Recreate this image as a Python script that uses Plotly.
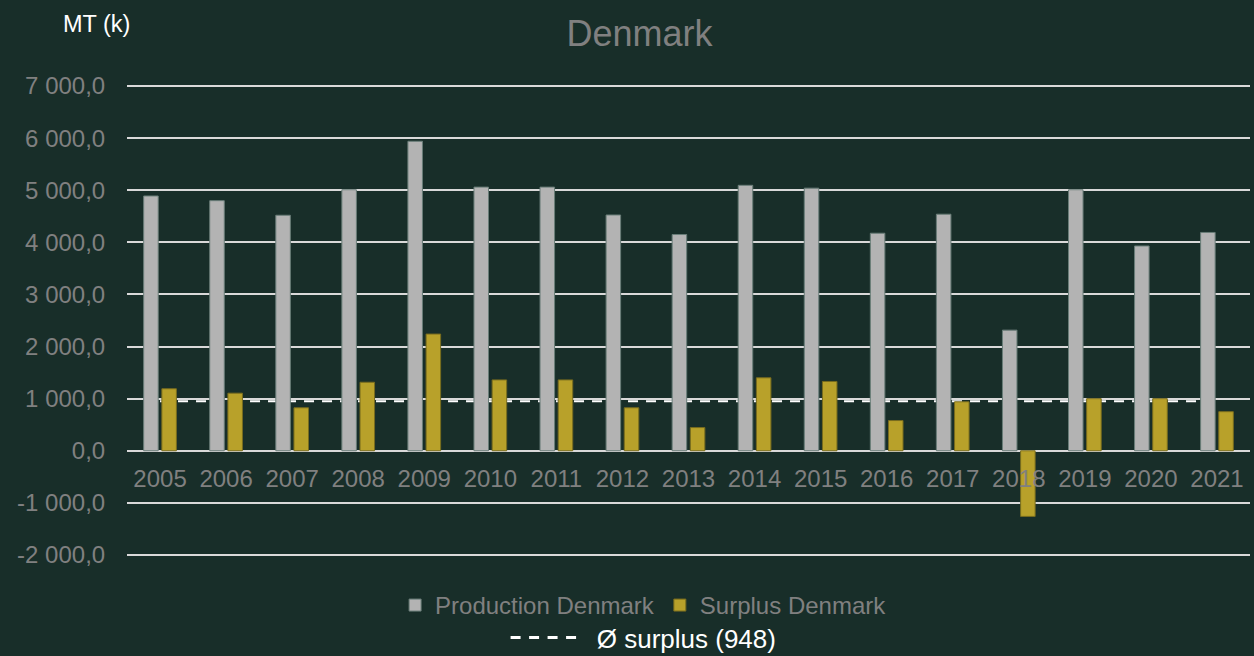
import plotly.graph_objects as go

years = [str(y) for y in range(2005, 2022)]
production = [4890, 4800, 4520, 5010, 5940, 5060, 5060, 4525, 4150, 5095, 5040, 4175, 4540, 2315, 5010, 3930, 4190]
surplus = [1190, 1105, 825, 1315, 2240, 1360, 1360, 825, 445, 1400, 1330, 580, 940, -1260, 1000, 1000, 750]
avg_surplus = 948
y_ticks = [-2000, -1000, 0, 1000, 2000, 3000, 4000, 5000, 6000, 7000]
y_ticktext = ["-2 000,0", "-1 000,0", "0,0", "1 000,0", "2 000,0", "3 000,0",
              "4 000,0", "5 000,0", "6 000,0", "7 000,0"]

BG = "rgb(24,46,41)"
GRID = "rgb(217,217,217)"
TXT = "rgb(128,128,128)"
FONT = "Liberation Sans, Arial, sans-serif"

Y0, Y1 = -2020, 7020

fig = go.Figure()
fig.add_trace(go.Bar(
    x=years, y=production, name="Production Denmark",
    marker=dict(color="rgb(179,179,179)", line=dict(color="rgb(105,125,120)", width=1)),
    legend="legend",
))
fig.add_trace(go.Bar(
    x=years, y=surplus, name="Surplus Denmark",
    marker=dict(color="rgb(184,161,42)", line=dict(color="rgb(120,108,30)", width=1)),
    legend="legend",
))
# legend entry for the average line (the line itself is drawn as a shape behind the bars)
fig.add_trace(go.Scatter(
    x=[None], y=[None], mode="lines",
    name="<span style='color:white'>\u2002\u200aØ surplus (" + str(avg_surplus) + ")</span>",
    line=dict(color="white", width=3, dash="10px,8.5px"),
    legend="legend2",
))
fig.add_shape(
    type="line", xref="x", yref="y", x0=0, x1=len(years) - 1,
    y0=avg_surplus, y1=avg_surplus, layer="below",
    line=dict(color="white", width=2, dash="10px,8px"),
)

fig.update_layout(
    width=1254, height=656,
    paper_bgcolor=BG, plot_bgcolor=BG,
    margin=dict(l=127, r=4, t=85, b=100, autoexpand=False),
    separators=", ",
    font=dict(family=FONT, size=24, color=TXT),
    barmode="group", bargap=0.45, bargroupgap=0.2,
    title=dict(text="Denmark", x=0.51, xref="container", y=1 - 33 / 656, yref="container",
               xanchor="center", yanchor="middle",
               font=dict(family=FONT, size=36, color=TXT)),
    xaxis=dict(
        type="category", range=[-0.5, len(years) - 0.5],
        anchor="free", position=(0 - Y0) / (Y1 - Y0),
        showgrid=False, showline=False, zeroline=False,
        ticks="outside", ticklen=6, tickcolor="rgba(0,0,0,0)",
        tickfont=dict(size=24, color=TXT),
    ),
    yaxis=dict(
        range=[Y0, Y1], tickvals=y_ticks, ticktext=y_ticktext,
        showgrid=True, gridcolor=GRID, gridwidth=1.5,
        zeroline=True, zerolinecolor=GRID, zerolinewidth=1.5,
        showline=False,
        ticks="outside", ticklen=16, tickcolor="rgba(0,0,0,0)",
        tickfont=dict(size=24, color=TXT),
    ),
    legend=dict(orientation="h", x=0.46, xanchor="center", y=-0.105, yanchor="middle",
                font=dict(size=24, color=TXT), bgcolor="rgba(0,0,0,0)", itemwidth=30),
    legend2=dict(orientation="h", x=0.46, xanchor="center", y=-0.173, yanchor="middle",
                 font=dict(size=26, color="white"), bgcolor="rgba(0,0,0,0)", itemwidth=66),
    annotations=[dict(text="MT (k)", xref="paper", yref="paper", x=(96 - 127) / 1123,
                      y=(555 - 25) / 469, showarrow=False, xanchor="center", yanchor="middle",
                      font=dict(family=FONT, size=23.5, color="white"))],
    showlegend=True,
)

fig.write_html("out.html", config={"displayModeBar": False},
               post_script="document.body.style.margin='0';")
